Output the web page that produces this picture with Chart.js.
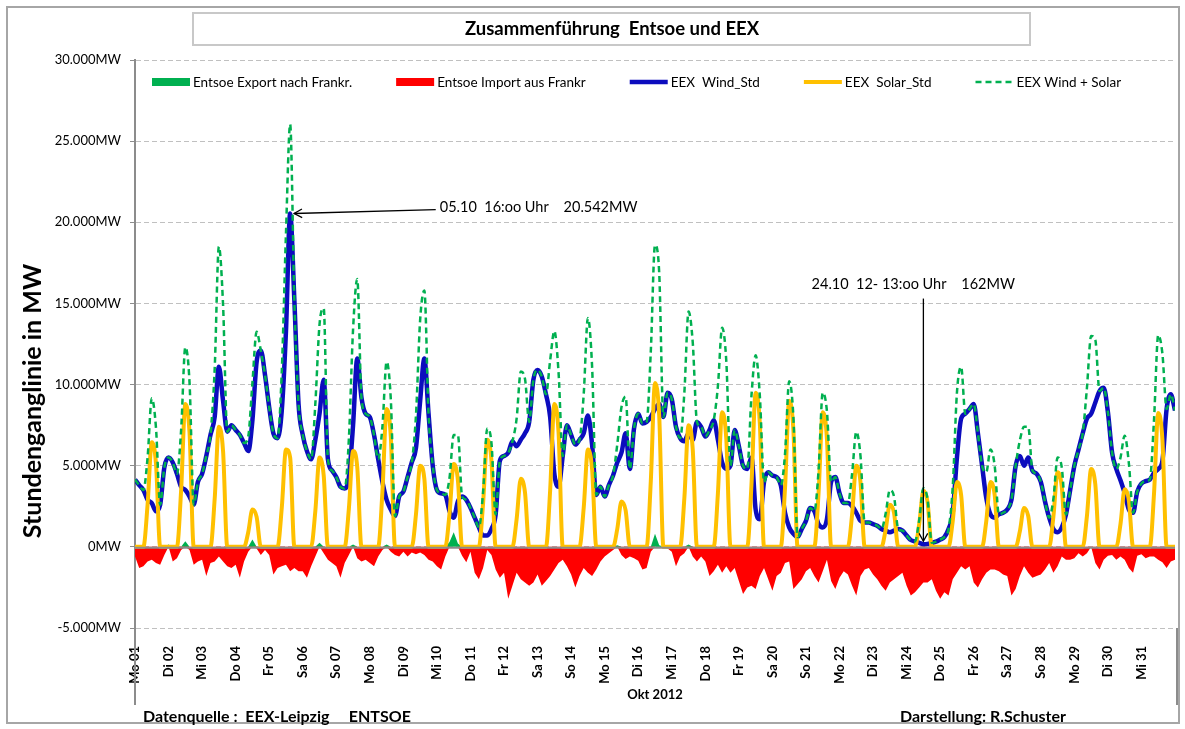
<!DOCTYPE html>
<html>
<head>
<meta charset="utf-8">
<title>Zusammenführung Entsoe und EEX</title>
<script src="https://cdn.jsdelivr.net/npm/chart.js"></script>
<style>
  html,body{margin:0;padding:0;background:#fff;}
  canvas{display:block;}
</style>
</head>
<body>
<canvas id="myChart" width="1185" height="729"></canvas>
<script>
// ***********tick labels***********
const dayLabels=['Mo 01','Di 02','Mi 03','Do 04','Fr 05','Sa 06','So 07','Mo 08','Di 09','Mi 10',
  'Do 11','Fr 12','Sa 13','So 14','Mo 15','Di 16','Mi 17','Do 18','Fr 19','Sa 20','So 21',
  'Mo 22','Di 23','Mi 24','Do 25','Fr 26','Sa 27','So 28','Mo 29','Di 30','Mi 31'];
const yTicks=[-5000,0,5000,10000,15000,20000,25000,30000];

// hour of month for every sample (3-hourly, 0..744)
const hours=[];
for(let h=0;h<=744;h+=3) hours.push(h);

// ***********EEX Wind (MW), one row per day: 0,3,6,...,21 Uhr***********
const wind=[
  4150,3800,3500,2900,2700,2200,2600,4900,      // 01
  5500,5200,4500,3700,3500,3100,2600,4000,      // 02
  4500,5600,6900,8000,11100,9000,7100,7500,     // 03
  7200,6900,6400,5900,7800,11400,12100,10600,   // 04
  8600,7000,6700,8400,13300,20542,15200,8800,   // 05
  6900,5900,5400,6600,8200,10300,5400,4700,     // 06
  4300,3700,3600,4300,7500,11600,9200,8200,     // 07
  8000,6900,5400,4000,2900,2300,1900,3100,      // 08
  3400,4300,5200,6100,9000,11600,8200,5000,     // 09
  3500,3300,3200,2200,1800,2800,3100,2900,      // 10
  2400,1800,1200,700,700,1100,2000,5300,        // 11
  5600,5800,6500,6200,6600,7000,7700,10300,     // 12
  10900,10500,9400,8000,4500,3700,5600,7500,    // 13
  6900,6300,6600,7000,8100,6300,3200,3700,      // 14
  3100,3800,4400,5200,5800,7000,4800,7300,      // 15
  8200,7600,7700,8000,8500,8800,8000,9500,      // 16
  9100,7400,6700,6500,7000,6600,7700,7400,      // 17
  6800,7200,7800,6600,5200,4800,5000,7200,      // 18
  6200,5000,4800,5500,2300,1700,4000,4600,      // 19
  4400,4300,3800,2100,1200,800,600,1100,        // 20
  1600,2400,2200,1400,1200,1700,4000,4300,      // 21
  3300,2700,2700,2500,2100,1600,1500,1500,      // 22
  1400,1300,1100,1000,900,1000,1100,1000,       // 23
  700,420,330,250,162,180,250,320,              // 24
  450,600,1100,2100,5500,7900,8200,8500,        // 25
  8800,7000,5000,3000,2000,1800,2000,2100,      // 26
  2300,2900,5000,5600,5000,5500,4700,4500,      // 27
  4000,2800,1800,1100,900,1200,2000,3500,       // 28
  5000,6000,7000,7900,8200,8900,9600,9800,      // 29
  8300,5800,4800,4100,3300,2300,2100,3400,      // 30
  3900,4050,4150,4550,4800,5300,8500,9400,      // 31
  8400
];

// ***********EEX Solar (MW)***********
const solar=[
  0,0,0,2600,6450,5150,0,0,   0,0,0,3500,8800,7050,0,0,   0,0,0,2950,7400,5900,0,0,
  0,0,0,900,2300,1850,0,0,    0,0,0,2400,6000,5500,0,0,   0,0,0,2200,5500,4400,0,0,
  0,0,0,2350,5900,4900,0,0,   0,0,0,3400,8500,6800,0,0,   0,0,0,2000,5000,4200,0,0,
  0,0,0,2050,5100,4100,0,0,   0,0,0,2650,6600,5300,0,0,   0,0,0,1700,4200,3350,0,0,
  0,0,0,3500,8800,7050,0,0,   0,0,0,2400,6000,4800,0,0,   0,0,0,1100,2800,2250,0,0,
  0,0,0,4050,10100,8100,0,0,  0,0,0,3000,7500,6000,0,0,   0,0,0,3300,8300,6650,0,0,
  0,0,0,3800,9500,7600,0,0,   0,0,0,3600,9000,7200,0,0,   0,0,0,3300,8300,6650,0,0,
  0,0,0,2000,5000,4000,0,0,   0,0,0,1050,2600,2100,0,0,   0,0,0,1400,3450,2750,0,0,
  0,0,0,1600,4000,3200,0,0,   0,0,0,1600,4000,3200,0,0,   0,0,0,950,2400,1900,0,0,
  0,0,0,1850,4600,3700,0,0,   0,0,0,1900,4800,3850,0,0,   0,0,0,1400,3550,2850,0,0,
  0,0,0,3300,8250,6600,0,0,
  0
];

// ***********Entsoe Export nach Frankreich (MW)***********
const exportFr=[
  0,0,0,0,0,0,0,0,        150,0,0,0,350,0,0,0,     0,0,0,0,0,0,0,0,
  0,0,0,0,450,0,0,0,      0,0,0,0,0,0,0,0,         0,0,0,0,250,0,0,0,
  0,0,0,0,150,0,0,0,      0,0,0,0,150,0,0,0,       0,0,0,0,0,0,0,0,
  0,0,0,300,900,200,0,0,  0,0,0,0,0,0,0,0,         0,0,0,0,0,0,0,0,
  0,0,0,0,0,0,0,0,        0,0,0,0,0,0,0,0,         0,0,0,100,0,0,0,0,
  0,0,0,0,800,100,0,0,    0,0,0,0,150,0,0,0,       0,0,0,0,0,0,0,0,
  0,0,0,0,0,0,0,0,        0,0,0,0,0,0,0,0,         0,0,0,0,0,0,0,0,
  0,0,0,0,0,0,0,0,        0,0,0,0,0,0,0,0,         0,0,0,0,0,0,0,0,
  0,0,0,0,0,0,0,0,        0,0,0,0,0,0,0,0,         0,0,0,0,0,0,0,0,
  0,0,0,0,0,0,0,0,        0,0,0,0,0,0,0,0,         0,0,0,0,0,0,0,0,
  0,0,0,0,0,0,0,0,
  0
];

// ***********Entsoe Import aus Frankreich (MW)***********
const importFr=[
  -600,-1300,-1200,-900,-800,-1000,-1100,-500,       // 01
  0,-900,-700,-200,0,-200,-1100,-900,                // 02
  -800,-1800,-1000,-900,-600,-900,-1200,-1300,       // 03
  -1100,-1900,-900,-300,0,-100,-500,-200,            // 04
  -500,-1700,-1300,-1200,-1100,-1500,-1300,-1500,    // 05
  -1500,-1900,-1200,-600,0,-400,-800,-1000,          // 06
  -1200,-1900,-1000,-500,0,-700,-900,-800,           // 07
  -1000,-1200,-600,-200,0,-300,-500,-600,            // 08
  -300,-600,-350,-450,-350,-500,-800,-900,           // 09
  -1200,-1400,-600,0,0,0,-550,-950,                  // 10
  -300,-1600,-2000,-1300,-200,-500,-1400,-1900,      // 11
  -1600,-3200,-2400,-1600,-2000,-2200,-2400,-2200,   // 12
  -1700,-2400,-2100,-1800,-1400,-1000,-800,-1200,    // 13
  -1700,-2500,-1800,-1300,-1600,-1800,-1400,-900,    // 14
  -600,-400,-200,0,-500,-750,-600,-700,              // 15
  -850,-1400,-1300,-300,0,0,0,-100,                  // 16
  -300,-1200,-600,-400,0,-600,-900,-600,             // 17
  -900,-1800,-1500,-1100,-1600,-1200,-1600,-1300,    // 18
  -2100,-2900,-2500,-2400,-2600,-1800,-1300,-2000,   // 19
  -2700,-1800,-1600,-1000,-900,-2600,-2300,-2000,    // 20
  -1500,-1300,-1800,-2200,-1500,-800,-2100,-2600,    // 21
  -1900,-1500,-1700,-2400,-3000,-1800,-1400,-1300,   // 22
  -1700,-2000,-2400,-2700,-2200,-2000,-1800,-1600,   // 23
  -2400,-3000,-2800,-2500,-2200,-2200,-2000,-2700,   // 24
  -3200,-2800,-3000,-2000,-1600,-1200,-1400,-1200,   // 25
  -2200,-2500,-2000,-1600,-1400,-1400,-1500,-1700,   // 26
  -1800,-3000,-2600,-1800,-1200,-1600,-1900,-1800,   // 27
  -1700,-1400,-1000,-1600,-1200,-600,-800,-800,      // 28
  -700,-400,-600,-400,0,-1000,-1400,-800,            // 29
  -550,-500,-800,-600,-800,-1300,-1600,-550,         // 30
  -450,-700,-600,-600,-800,-950,-1300,-900,          // 31
  -800
];

const windSolar=wind.map((w,i)=>w+solar[i]);

// annotation texts, anchored in data units (hour of month / MW)
const notes=[
  {text:'05.10  16:oo Uhr    20.542MW', pick:'max', tx:218, ty:20900},
  {text:'24.10  12- 13:oo Uhr    162MW', pick:'min', tx:484, ty:16200, from:15300}
];

const FONT='Lato, "Open Sans", sans-serif';

function fmtMW(v){
  const s=String(Math.abs(v)).replace(/\B(?=(\d{3})+(?!\d))/g,'.');
  return (v<0?'-':'')+s+'MW';
}

function arrow(ctx,x1,y1,x2,y2){
  ctx.beginPath();ctx.moveTo(x1,y1);ctx.lineTo(x2,y2);ctx.stroke();
  const ang=Math.atan2(y2-y1,x2-x1),L=9,w=0.5;
  ctx.beginPath();
  ctx.moveTo(x2-L*Math.cos(ang-w),y2-L*Math.sin(ang-w));
  ctx.lineTo(x2,y2);
  ctx.lineTo(x2-L*Math.cos(ang+w),y2-L*Math.sin(ang+w));
  ctx.stroke();
}

// ********frame, title, legend, notes, footer********
const decor={
  id:'decor',
  afterDatasetsDraw(chart){
    const {ctx,chartArea:a,scales:{y}}=chart;
    const y0=y.getPixelForValue(0)+1;
    ctx.save();
    ctx.strokeStyle='#8c8c8c';ctx.lineWidth=2;
    ctx.beginPath();ctx.moveTo(a.left,y0);ctx.lineTo(a.right,y0);ctx.stroke();
    ctx.restore();
  },
  afterDraw(chart){
    const {ctx,chartArea:a,scales:{x,y}}=chart;
    ctx.save();
    // outer frame
    ctx.strokeStyle='#a6a6a6';ctx.lineWidth=2;
    ctx.strokeRect(7,7,chart.width-13,chart.height-13);
    // title box
    ctx.strokeStyle='#c8c8c8';ctx.lineWidth=2;
    ctx.strokeRect(193,13,837,32);
    ctx.fillStyle='#000';ctx.font='bold 18.5px '+FONT;
    ctx.textAlign='center';ctx.textBaseline='middle';
    ctx.fillText('Zusammenführung  Entsoe und EEX',612,29);
    // y title
    ctx.save();
    ctx.translate(33,a.top+341);ctx.rotate(-Math.PI/2);
    ctx.font='bold 25px '+FONT;
    ctx.fillText('Stundenganglinie in MW',0,0);
    ctx.restore();
    // axis extension lines below the plot
    ctx.strokeStyle='#8c8c8c';ctx.lineWidth=2;
    ctx.beginPath();
    ctx.moveTo(a.left,a.bottom);ctx.lineTo(a.left,705);
    ctx.moveTo(a.right+2,a.bottom);ctx.lineTo(a.right+2,705);
    ctx.stroke();
    // legend
    let lx=152;const ly=a.top+22;
    ctx.font='13.5px '+FONT;ctx.textAlign='left';
    chart.data.datasets.forEach(ds=>{
      if(ds.fill){
        ctx.fillStyle=ds.backgroundColor;ctx.fillRect(lx,ly-4,38,8);
      }else{
        ctx.strokeStyle=ds.borderColor;ctx.lineWidth=ds.borderWidth;
        ctx.setLineDash(ds.borderDash||[]);
        ctx.beginPath();ctx.moveTo(lx,ly);ctx.lineTo(lx+38,ly);ctx.stroke();
        ctx.setLineDash([]);
      }
      ctx.fillStyle='#000';
      ctx.fillText(ds.label,lx+41,ly+1);
      lx+=41+ctx.measureText(ds.label).width+44;
    });
    // notes
    ctx.font='14.5px '+FONT;ctx.strokeStyle='#000';ctx.lineWidth=1.3;ctx.fillStyle='#000';
    notes.forEach(n=>{
      const v=n.pick==='max'?Math.max(...wind):Math.min(...wind);
      const i=wind.indexOf(v);
      const px=x.getPixelForValue(hours[i]),py=y.getPixelForValue(v);
      const tx=x.getPixelForValue(n.tx),ty=y.getPixelForValue(n.ty);
      ctx.textAlign='left';ctx.fillText(n.text,tx,ty);
      if(n.from===undefined) arrow(ctx,tx-4,ty+2,px+4,py);
      else arrow(ctx,px,y.getPixelForValue(n.from),px,py-3);
    });
    // footer
    ctx.font='bold 16px '+FONT;ctx.textAlign='left';
    ctx.fillText('Datenquelle :  EEX-Leipzig     ENTSOE',143,chart.height-12);
    ctx.fillText('Darstellung: R.Schuster',900,chart.height-12);
    ctx.restore();
  }
};

const ctx=document.getElementById('myChart');
new Chart(ctx,{
  type:'line',
  data:{
    labels:hours,
    datasets:[
      {label:'Entsoe Export nach Frankr.',data:exportFr,fill:'origin',backgroundColor:'#00B050',
        borderColor:'rgba(0,0,0,0)',borderWidth:0,pointRadius:0,tension:0,order:5},
      {label:'Entsoe Import aus Frankr',data:importFr,fill:'origin',backgroundColor:'#FF0000',
        borderColor:'rgba(0,0,0,0)',borderWidth:0,pointRadius:0,tension:0,order:4},
      {label:'EEX  Wind_Std',data:wind,fill:false,borderColor:'#0C0CBE',borderWidth:4.5,
        pointRadius:0,cubicInterpolationMode:'monotone',order:3},
      {label:'EEX  Solar_Std',data:solar,fill:false,borderColor:'#FFC000',borderWidth:4,
        pointRadius:0,cubicInterpolationMode:'monotone',order:2},
      {label:'EEX Wind + Solar',data:windSolar,fill:false,borderColor:'#00B050',borderWidth:2.5,
        borderDash:[6,4],pointRadius:0,cubicInterpolationMode:'monotone',order:1}
    ]
  },
  options:{
    responsive:false,
    animation:false,
    events:[],
    layout:{padding:{top:60,right:10,left:0,bottom:0}},
    plugins:{legend:{display:false},tooltip:{enabled:false},title:{display:false}},
    scales:{
      x:{
        type:'linear',min:0,max:744,
        afterBuildTicks:s=>{s.ticks=dayLabels.map((_,i)=>({value:i*24}));},
        afterFit:s=>{s.height=101;},
        grid:{display:false},
        border:{display:false},
        ticks:{autoSkip:false,maxRotation:90,minRotation:90,padding:10,color:'#000',
          font:{family:FONT,size:13,weight:'bold'},
          callback:(v,i)=>dayLabels[i]||''},
        title:{display:true,text:'Okt 2012',color:'#000',font:{family:FONT,size:13,weight:'bold'},
          padding:{top:4,bottom:26}}
      },
      y:{
        min:-5000,max:30000,
        afterBuildTicks:s=>{s.ticks=yTicks.map(v=>({value:v}));},
        afterFit:s=>{s.width=135;},
        grid:{color:'#c0c0c0',lineWidth:1,tickLength:5,tickColor:'#8c8c8c'},
        border:{display:true,color:'#8c8c8c',width:2,dash:[5,3]},
        ticks:{padding:9,color:'#000',font:{family:FONT,size:13},callback:v=>fmtMW(v)}
      }
    }
  },
  plugins:[decor]
});
</script>
</body>
</html>
